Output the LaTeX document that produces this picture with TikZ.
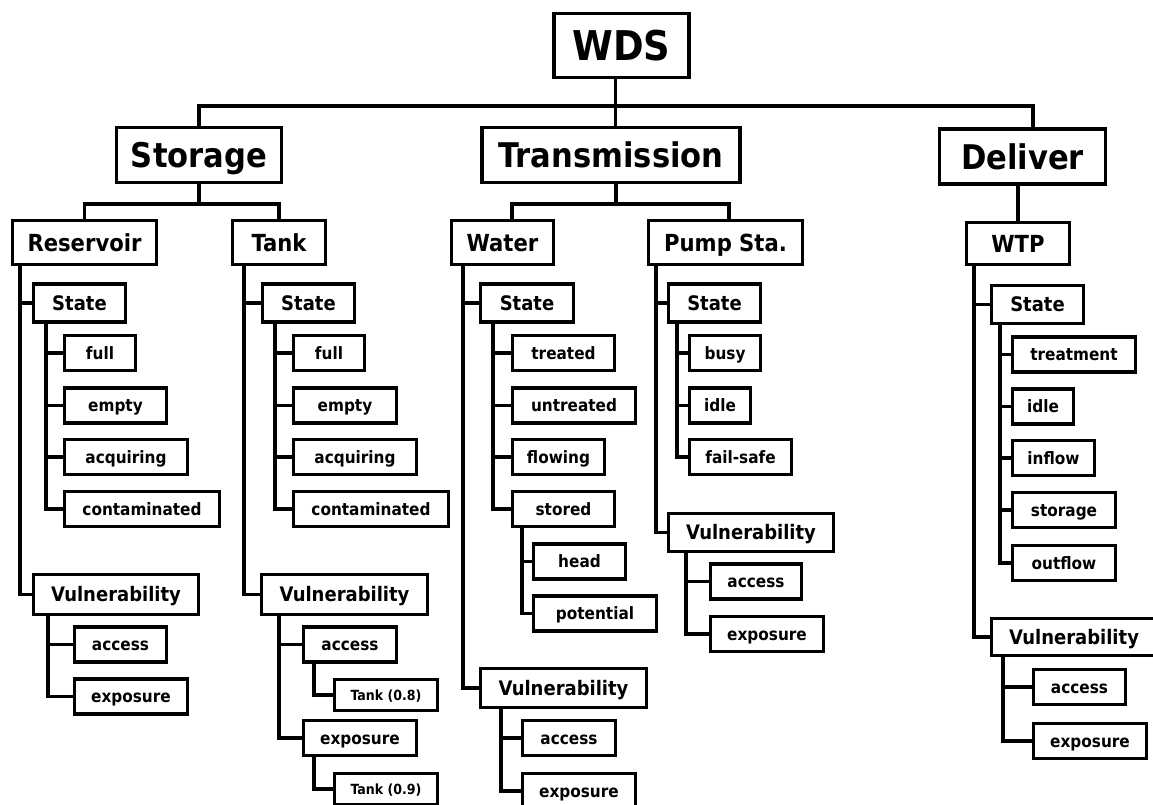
\documentclass[tikz,border=0pt]{standalone}
\usepackage{fontspec}
\setmainfont{DejaVu Sans Condensed}
\usepackage{tikz}

\tikzset{
  box/.style={draw, line width=3.3pt, inner sep=0pt, text depth=0pt},
  topbox/.style={box, text height=30.3pt, font=\bfseries\fontsize{41}{41}\selectfont},
  midbox/.style={box, minimum height=55, text height=25.2pt, font=\bfseries\fontsize{34}{34}\selectfont},
  subbox/.style={box, minimum height=44, text height=17.4pt, font=\bfseries\fontsize{23.5}{23.5}\selectfont},
  grpbox/.style={box, minimum height=38, text height=14.8pt, font=\bfseries\fontsize{20}{20}\selectfont},
  leafbox/.style={box, minimum height=35, text height=12.6pt, font=\bfseries\fontsize{17}{17}\selectfont},
  smallbox/.style={box, minimum height=31, text height=10.4pt, font=\bfseries\fontsize{14}{14}\selectfont},
  link/.style={line width=3.3pt}
}

\begin{document}
\begin{tikzpicture}[x=1pt, y=-1pt]
\useasboundingbox (0,0) rectangle (1153,805);

% top levels
\node[topbox, minimum width=135, minimum height=64] (wds) at (621.5,45.5) {WDS};
\node[midbox, minimum width=165] (storage) at (199,155) {Storage};
\node[midbox, minimum width=258] (trans) at (611,155) {Transmission};
\node[midbox, minimum width=166] (deliver) at (1022.5,156.5) {Deliver};

\node[subbox, minimum width=144] (res) at (84.5,242.5) {Reservoir};
\node[subbox, minimum width=93] (tank) at (279,242.5) {Tank};
\node[subbox, minimum width=102] (water) at (502.5,242.5) {Water};
\node[subbox, minimum width=154] (pump) at (725.5,242.5) {Pump Sta.};
\node[subbox, minimum width=103, minimum height=42] (wtp) at (1018,243.5) {WTP};

\coordinate (busend) at (1033,106);
\coordinate (tbusL) at (512,204);
\coordinate (tbusR) at (729,204);

\draw[link] ([xshift=-6pt]wds.south) -- ([xshift=-6pt]wds.south |- trans.north);
\draw[link] (storage.north) |- (busend) -- (busend |- deliver.north);
\draw[link] (storage.south) -- (storage.south |- 0,204);
\draw[link] (res.north) |- (tank.north |- 0,204) -- (tank.north);
\draw[link] ([xshift=5pt]trans.south) -- ([xshift=5pt]trans.south |- tbusL);
\draw[link] (tbusL |- water.north) -- (tbusL) -- (tbusR) -- (tbusR |- pump.north);
\draw[link] (wtp.north |- deliver.south) -- (wtp.north);

% Reservoir
\node[grpbox, minimum width=92] (rstate) at (79.5,303) {State};
\node[leafbox, minimum width=71] (rfull) at (100,353) {full};
\node[leafbox, minimum width=102] (rempty) at (115.5,405.5) {empty};
\node[leafbox, minimum width=123] (racq) at (126,457) {acquiring};
\node[leafbox, minimum width=155] (rcont) at (142,509) {contaminated};
\node[grpbox, minimum width=165, minimum height=40] (rvul) at (116,594.5) {Vulnerability};
\node[leafbox, minimum width=92] (racc) at (120.5,644.5) {access};
\node[leafbox, minimum width=113] (rexp) at (131,696.5) {exposure};

\draw[link] (res.south -| 20,0) |- (rstate.west);
\draw[link] (res.south -| 20,0) |- (rvul.west);
\draw[link] (rstate.south -| 46,0) |- (rfull.west);
\draw[link] (rstate.south -| 46,0) |- (rempty.west);
\draw[link] (rstate.south -| 46,0) |- (racq.west);
\draw[link] (rstate.south -| 46,0) |- (rcont.west);
\draw[link] (rvul.south -| 48,0) |- (racc.west);
\draw[link] (rvul.south -| 48,0) |- (rexp.west);

% Tank
\node[grpbox, minimum width=92] (tstate) at (308.5,303) {State};
\node[leafbox, minimum width=71] (tfull) at (329,353) {full};
\node[leafbox, minimum width=103] (tempty) at (345,405.5) {empty};
\node[leafbox, minimum width=123] (tacq) at (355,457) {acquiring};
\node[leafbox, minimum width=155] (tcont) at (371,509) {contaminated};
\node[grpbox, minimum width=166, minimum height=40] (tvul) at (344.5,594.5) {Vulnerability};
\node[leafbox, minimum width=93] (tacc) at (350,644.5) {access};
\node[smallbox, minimum width=103] (tacc8) at (386,695) {Tank (0.8)};
\node[leafbox, minimum width=113] (texp) at (360,738) {exposure};
\node[smallbox, minimum width=103] (texp9) at (386,789) {Tank (0.9)};

\draw[link] (tank.south -| 244,0) |- (tstate.west);
\draw[link] (tank.south -| 244,0) |- (tvul.west);
\draw[link] (tstate.south -| 275,0) |- (tfull.west);
\draw[link] (tstate.south -| 275,0) |- (tempty.west);
\draw[link] (tstate.south -| 275,0) |- (tacq.west);
\draw[link] (tstate.south -| 275,0) |- (tcont.west);
\draw[link] (tvul.south -| 279,0) |- (tacc.west);
\draw[link] (tvul.south -| 279,0) |- (texp.west);
\draw[link] (tacc.south -| 314,0) |- (tacc8.west);
\draw[link] (texp.south -| 314,0) |- (texp9.west);

% Water
\node[grpbox, minimum width=93] (wstate) at (527,303) {State};
\node[leafbox, minimum width=102] (wtreat) at (563.5,353) {treated};
\node[leafbox, minimum width=123] (wuntreat) at (574,405.5) {untreated};
\node[leafbox, minimum width=92] (wflow) at (558.5,457) {flowing};
\node[leafbox, minimum width=102] (wstored) at (563.5,509) {stored};
\node[leafbox, minimum width=92] (whead) at (579.5,561.5) {head};
\node[leafbox, minimum width=123] (wpot) at (595,613.5) {potential};
\node[grpbox, minimum width=166, minimum height=39] (wvul) at (563.5,688) {Vulnerability};
\node[leafbox, minimum width=93] (wacc) at (569,738) {access};
\node[leafbox, minimum width=113] (wexp) at (579,791) {exposure};

\draw[link] (water.south -| 463,0) |- (wstate.west);
\draw[link] (water.south -| 463,0) |- (wvul.west);
\draw[link] (wstate.south -| 493,0) |- (wtreat.west);
\draw[link] (wstate.south -| 493,0) |- (wuntreat.west);
\draw[link] (wstate.south -| 493,0) |- (wflow.west);
\draw[link] (wstate.south -| 493,0) |- (wstored.west);
\draw[link] (wstored.south -| 522,0) |- (whead.west);
\draw[link] (wstored.south -| 522,0) |- (wpot.west);
\draw[link] (wvul.south -| 501,0) |- (wacc.west);
\draw[link] (wvul.south -| 501,0) |- (wexp.west);

% Pump Sta.
\node[grpbox, minimum width=92] (pstate) at (714.5,303) {State};
\node[leafbox, minimum width=71] (pbusy) at (725,353) {busy};
\node[leafbox, minimum width=61] (pidle) at (720,405.5) {idle};
\node[leafbox, minimum width=102] (pfail) at (740.5,457) {fail-safe};
\node[grpbox, minimum width=165] (pvul) at (751,532.5) {Vulnerability};
\node[leafbox, minimum width=91] (pacc) at (756,581.5) {access};
\node[leafbox, minimum width=113] (pexp) at (767,634) {exposure};

\draw[link] (pump.south -| 656,0) |- (pstate.west);
\draw[link] (pump.south -| 656,0) |- (pvul.west);
\draw[link] (pstate.south -| 677,0) |- (pbusy.west);
\draw[link] (pstate.south -| 677,0) |- (pidle.west);
\draw[link] (pstate.south -| 677,0) |- (pfail.west);
\draw[link] (pvul.south -| 686,0) |- (pacc.west);
\draw[link] (pvul.south -| 686,0) |- (pexp.west);

% WTP
\node[grpbox, minimum width=92] (dstate) at (1037.5,304.5) {State};
\node[leafbox, minimum width=123] (dtreat) at (1074,354.5) {treatment};
\node[leafbox, minimum width=61] (didle) at (1043,406.5) {idle};
\node[leafbox, minimum width=82] (dinflow) at (1053.5,458) {inflow};
\node[leafbox, minimum width=103] (dstor) at (1064,510) {storage};
\node[leafbox, minimum width=103] (doutflow) at (1064,563) {outflow};
\node[grpbox, minimum width=165, minimum height=37] (dvul) at (1074,637) {Vulnerability};
\node[leafbox, minimum width=92] (dacc) at (1079.5,687) {access};
\node[leafbox, minimum width=113] (dexp) at (1090,741) {exposure};

\draw[link] (wtp.south -| 974,0) |- (dstate.west);
\draw[link] (wtp.south -| 974,0) |- (dvul.west);
\draw[link] (dstate.south -| 1000,0) |- (dtreat.west);
\draw[link] (dstate.south -| 1000,0) |- (didle.west);
\draw[link] (dstate.south -| 1000,0) |- (dinflow.west);
\draw[link] (dstate.south -| 1000,0) |- (dstor.west);
\draw[link] (dstate.south -| 1000,0) |- (doutflow.west);
\draw[link] (dvul.south -| 1003,0) |- (dacc.west);
\draw[link] (dvul.south -| 1003,0) |- (dexp.west);
\end{tikzpicture}
\end{document}
